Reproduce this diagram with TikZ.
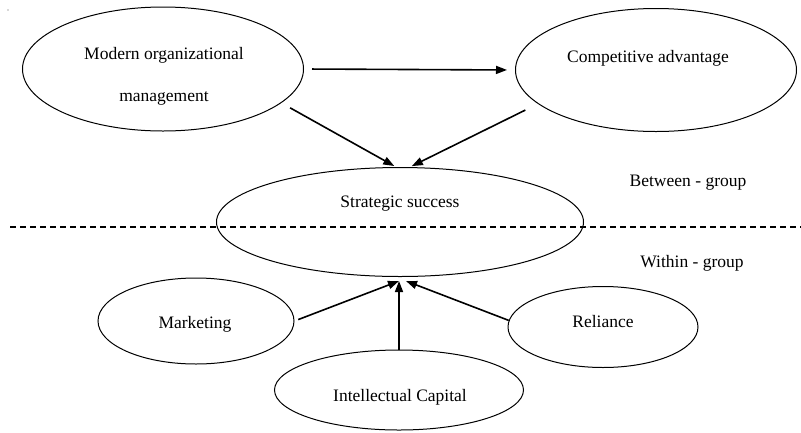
\documentclass[tikz,border=0pt]{standalone}
\usepackage{fontspec}
\setmainfont{Liberation Serif}
\usetikzlibrary{shapes.geometric,arrows.meta}
\begin{document}
\begin{tikzpicture}[x=1pt,y=-1pt,
  oval/.style={draw,ellipse,line width=1pt,inner sep=0pt},
  txt/.style={inner sep=0pt,font=\fontsize{17.5}{21}\selectfont},
  link/.style={line width=1.6pt,-{Triangle[length=11pt,width=8pt]}},
  divider/.style={line width=1.5pt,dash pattern=on 6pt off 4pt}]
  % canvas
  \fill[white] (0,0) rectangle (801,432);
  \useasboundingbox (0,0) rectangle (801,432);
  \fill[gray!60] (8,10) circle (0.8);

  % ovals
  \node[oval,minimum width=281pt,minimum height=124pt] (mom) at (163,69) {};
  \node[oval,minimum width=281pt,minimum height=123pt] (ca) at (656,70) {};
  \node[oval,minimum width=367pt,minimum height=109pt] (ss) at (400,222) {};
  \node[oval,minimum width=196pt,minimum height=86pt] (mk) at (196,321) {};
  \node[oval,minimum width=190pt,minimum height=81pt] (rel) at (603,327) {};
  \node[oval,minimum width=249pt,minimum height=80pt] (ic) at (399,390) {};

  % labels inside the ovals
  \node[txt,font=\fontsize{17.5}{42}\selectfont,align=center] (mom-t) at (164,76) {Modern organizational\\management};
  \node[txt] (ca-t) at (648,58) {Competitive advantage};
  \node[txt] (ss-t) at (400,204) {Strategic success};
  \node[txt] (mk-t) at (195,324) {Marketing};
  \node[txt] (rel-t) at (603,322) {Reliance};
  \node[txt] (ic-t) at (400,397) {Intellectual Capital};

  % group divider
  \coordinate (dl) at (10,227);
  \coordinate (dr) at (801,227);
  \draw[divider] (dl) -- (dr);
  \node[txt] (bg) at (688,183) {Between - group};
  \node[txt] (wg) at (692,263) {Within - group};

  % between-group links
  \draw[link,shorten <=8pt,shorten >=8pt] (mom.east) -- (ca.west);
  \draw[link,shorten <=10pt,shorten >=2pt] (mom.-16) -- ([xshift=-4pt]ss.north);
  \draw[link,shorten <=14pt,shorten >=2pt] (ca.-164) -- ([xshift=10pt]ss.north);

  % within-group links
  \draw[link,shorten <=4pt] (mk.east) -- ([xshift=-1pt,yshift=-4pt]ss.south);
  \draw[link,shorten >=4pt] (ic.north) -- (ic.north |- ss.south);
  \draw[link] (rel.176) -- ([xshift=6pt,yshift=-4pt]ss.south);
\end{tikzpicture}
\end{document}
